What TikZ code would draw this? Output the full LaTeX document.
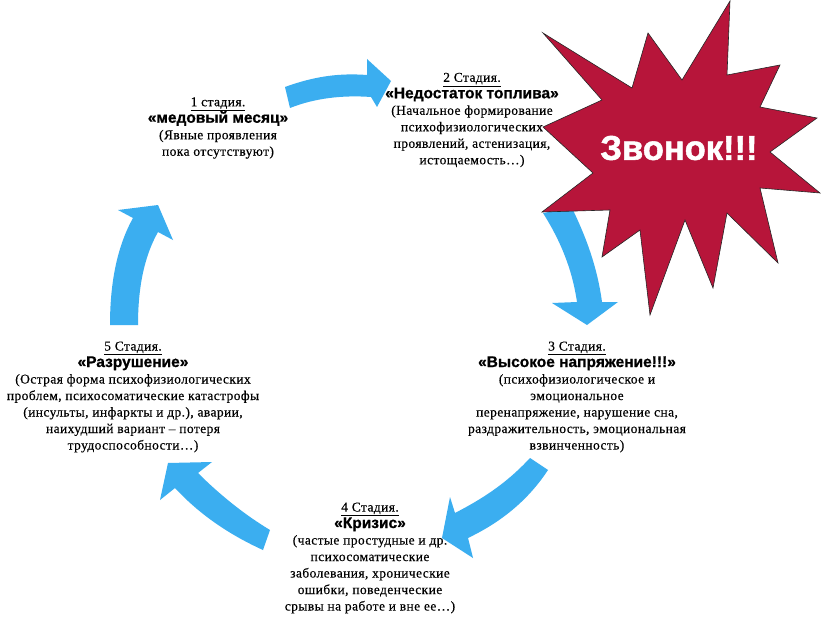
\documentclass[tikz,border=0pt]{standalone}
\usepackage{fontspec}
\setmainfont{Liberation Serif}
\newfontfamily\bodyserif{Liberation Serif}[LetterSpace=3,FakeBold=0.35]
\newfontfamily\headsans{Liberation Sans}[FakeBold=0.8]
\newfontfamily\bangsans{Liberation Sans}[FakeBold=1.5]
\definecolor{arrowblue}{RGB}{59,174,240}
\definecolor{starred}{RGB}{183,21,58}
\tikzset{
  bluearrow/.style={fill=arrowblue, draw=none},
  stagetext/.style={align=center, font=\bodyserif\fontsize{13.5}{16.5}\selectfont, inner sep=0pt},
  starshape/.style={fill=starred, draw=black!85, line width=0.6pt, line join=miter},
  bangtext/.style={text=white, font=\bangsans\bfseries\fontsize{34.5}{40}\selectfont, inner sep=0pt}
}
\newcommand{\stagehead}[1]{\underline{#1}}
\newcommand{\stagetitle}[1]{{\headsans\bfseries\fontsize{15.5}{16.5}\selectfont #1}}
\begin{document}
\begin{tikzpicture}[x=1pt,y=-1pt]
\useasboundingbox (0,0) rectangle (823,618);
\fill[white] (0,0) rectangle (823,618);

% arrow 1 -> 2
\fill[bluearrow] (285,87) .. controls (315,76) and (340,73) .. (367,75)
  -- (367,59) -- (391,81) -- (377,107) -- (371,97)
  .. controls (343,95) and (315,98) .. (290,108) -- cycle;
% arrow 2 -> 3
\fill[bluearrow] (572,208) .. controls (585,235) and (597,265) .. (602,302)
  -- (618,302) -- (587,325) -- (552,303) -- (577,302)
  .. controls (572,268) and (560,240) .. (543,213) -- cycle;
% arrow 3 -> 4
\fill[bluearrow] (530,458) .. controls (505,485) and (480,500) .. (455,513)
  -- (450,497) -- (442,538) -- (473,558) -- (468,538)
  .. controls (495,525) and (525,505) .. (548,470) -- cycle;
% arrow 4 -> 5
\fill[bluearrow] (270,530) .. controls (245,515) and (220,495) .. (198,473)
  -- (212,462) -- (168,463) -- (160,500) -- (175,488)
  .. controls (200,515) and (230,535) .. (263,550) -- cycle;
% arrow 5 -> 1
\fill[bluearrow] (110,325) .. controls (110,280) and (118,245) .. (133,218)
  -- (118,210) -- (158,205) -- (173,240) -- (158,232)
  .. controls (145,255) and (138,285) .. (138,325) -- cycle;

% star
\draw[starshape] (730,1) -- (727,75) -- (780,65) -- (760,107) -- (817,118)
  -- (770,152) -- (820,193) -- (760,188) -- (778,263) -- (727,213)
  -- (713,288) -- (685,220) -- (650,315) -- (640,230) -- (602,257)
  -- (610,210) -- (542,212) -- (593,173) -- (543,127) -- (602,100)
  -- (543,33) -- (632,88) -- (648,33) -- (682,80) -- cycle;
\node[bangtext] (zvonok) at (679,148) {Звонок!!!};

% stages
\node[stagetext] (s1) at (218,128) {\stagehead{1 стадия.}\\
  \stagetitle{«медовый месяц»}\\
  (Явные проявления\\
  пока отсутствуют)};
\node[stagetext] (s2) at (472,120) {\stagehead{2 Стадия.}\\
  \stagetitle{«Недостаток топлива»}\\
  (Начальное формирование\\
  психофизиологических\\
  проявлений, астенизация,\\
  истощаемость…)};
\node[stagetext] (s3) at (577,397) {\stagehead{3 Стадия.}\\
  \stagetitle{«Высокое напряжение!!!»}\\
  (психофизиологическое и\\
  эмоциональное\\
  перенапряжение, нарушение сна,\\
  раздражительность, эмоциональная\\
  взвинченность)};
\node[stagetext] (s4) at (370,558) {\stagehead{4 Стадия.}\\
  \stagetitle{«Кризис»}\\
  (частые простудные и др.\\
  психосоматические\\
  заболевания, хронические\\
  ошибки, поведенческие\\
  срывы на работе и вне ее…)};
\node[stagetext] (s5) at (133,397) {\stagehead{5 Стадия.}\\
  \stagetitle{«Разрушение»}\\
  (Острая форма психофизиологических\\
  проблем, психосоматические катастрофы\\
  (инсульты, инфаркты и др.), аварии,\\
  наихудший вариант – потеря\\
  трудоспособности…)};
\end{tikzpicture}
\end{document}
